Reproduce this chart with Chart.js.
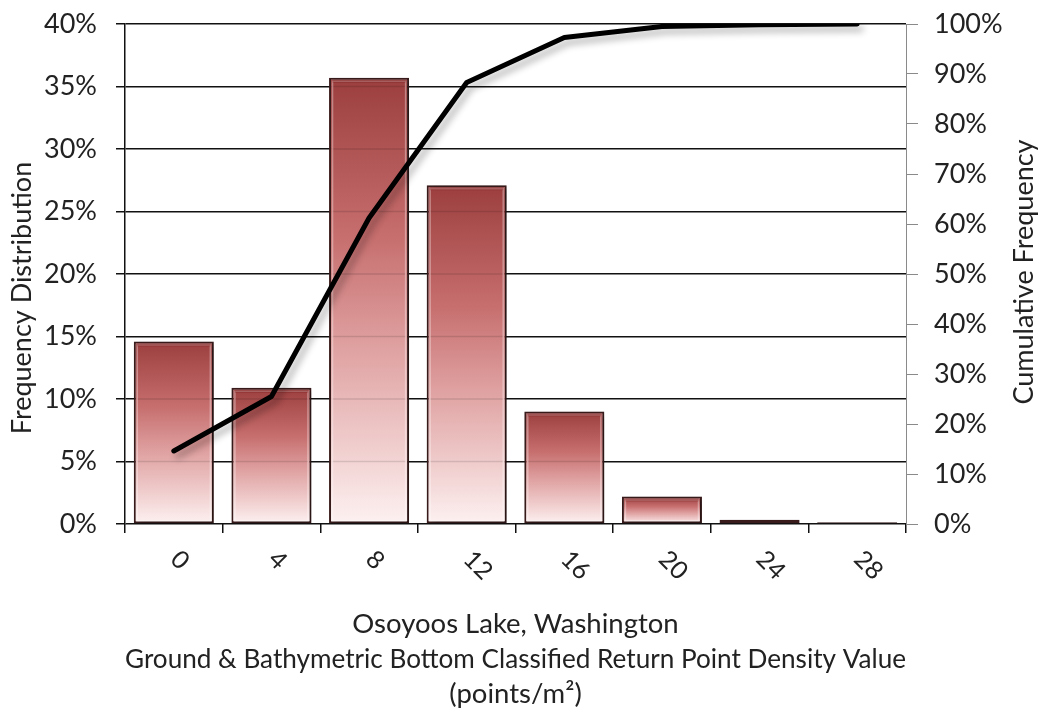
<!DOCTYPE html>
<html>
<head>
<meta charset="utf-8">
<script src="https://cdn.jsdelivr.net/npm/chart.js@4.4.1/dist/chart.umd.min.js"></script>
<style>
  html, body { margin: 0; padding: 0; background: #fff; }
  #wrap { width: 1042px; height: 712px; }
</style>
</head>
<body>
<div id="wrap"><canvas id="c" width="1042" height="712"></canvas></div>
<script>
// Point density classes (points/m²)
const densityClasses = ['0', '4', '8', '12', '16', '20', '24', '28'];
// Share of cells in each class (%)
const frequencyPct = [14.6, 10.9, 35.7, 27.1, 9.0, 2.2, 0.35, 0.15];
// Running total of the shares (%)
const cumulativePct = [14.6, 25.5, 61.2, 88.3, 97.3, 99.5, 99.85, 100];

const leftTicks = [0, 5, 10, 15, 20, 25, 30, 35, 40];
const rightTicks = [0, 10, 20, 30, 40, 50, 60, 70, 80, 90, 100];

const xTitleLines = [
  'Osoyoos Lake, Washington',
  'Ground & Bathymetric Bottom Classified Return Point Density Value',
  '(points/m²)'
];
const leftTitle = 'Frequency Distribution';
const rightTitle = 'Cumulative Frequency';

const FONT = 'Lato';
const TEXT = '#222';

function barGradient(ctx) {
  const chart = ctx.chart;
  if (!chart.chartArea || ctx.dataIndex === undefined) return '#c86a6a';
  const ys = chart.scales.y;
  const top = ys.getPixelForValue(ctx.dataset.data[ctx.dataIndex]);
  const bottom = ys.getPixelForValue(0);
  const g = chart.ctx.createLinearGradient(0, top, 0, bottom + 0.01);
  g.addColorStop(0, '#9c3e3e');
  g.addColorStop(0.35, '#c66d6d');
  g.addColorStop(0.6, '#dfa0a0');
  g.addColorStop(0.85, '#f2d2d2');
  g.addColorStop(1, '#fdf1f1');
  return g;
}

// Soft drop shadows for bars and the cumulative line, plus a light bevel on bars
const effects = {
  id: 'effects',
  beforeDatasetDraw(chart, args) {
    const c = chart.ctx;
    c.save();
    if (args.meta.type === 'bar') {
      c.shadowColor = 'rgba(0,0,0,0.35)';
      c.shadowBlur = 6;
      c.shadowOffsetX = 3;
      c.shadowOffsetY = 2;
    } else {
      c.shadowColor = 'rgba(0,0,0,0.30)';
      c.shadowBlur = 7;
      c.shadowOffsetX = 4;
      c.shadowOffsetY = 5;
    }
  },
  afterDatasetDraw(chart, args) {
    const c = chart.ctx;
    c.restore();
    if (args.meta.type !== 'bar') return;
    const ys = chart.scales.y;
    c.save();
    args.meta.data.forEach(el => {
      const p = el.getProps(['x', 'y', 'base', 'width'], true);
      const h = p.base - p.y;
      if (h < 8) return;
      const l = p.x - p.width / 2 + 3.5, r = p.x + p.width / 2 - 3.5;
      // faint grid showing through the glassy fill
      c.strokeStyle = 'rgba(0,0,0,0.12)';
      c.lineWidth = 1.5;
      leftTicks.forEach(v => {
        const gy = ys.getPixelForValue(v);
        if (gy > p.y + 4 && gy < p.base - 2) {
          c.beginPath();
          c.moveTo(l, gy);
          c.lineTo(r, gy);
          c.stroke();
        }
      });
      c.strokeStyle = 'rgba(255,255,255,0.35)';
      c.lineWidth = 1.5;
      c.strokeRect(l, p.y + 3.5, r - l, h - 6);
      c.fillStyle = 'rgba(120,30,30,0.35)';
      c.fillRect(l, p.y + 2, r - l, 3);
    });
    c.restore();
  }
};

// Rotated category labels and the vertical axis titles
const labels = {
  id: 'labels',
  afterDraw(chart) {
    const c = chart.ctx;
    const xs = chart.scales.x;
    const area = chart.chartArea;
    c.save();
    c.fillStyle = TEXT;
    c.font = '25px ' + FONT;
    c.textAlign = 'left';
    c.textBaseline = 'middle';
    densityClasses.forEach((lab, i) => {
      const x = xs.getPixelForTick(i);
      c.save();
      c.translate(x + 1, area.bottom + 31);
      c.rotate(Math.PI / 4);
      c.fillText(lab, 0, 0);
      c.restore();
    });
    c.font = '27px ' + FONT;
    c.textAlign = 'center';
    c.save();
    c.translate(22, 298);
    c.rotate(-Math.PI / 2);
    c.fillText(leftTitle, 0, 0);
    c.restore();
    c.save();
    c.translate(1024, 272);
    c.rotate(-Math.PI / 2);
    c.fillText(rightTitle, 0, 0);
    c.restore();
    c.restore();
  }
};

function fixVertical(width) {
  return s => {
    s.width = width;
    s.paddingTop = 0;
    s.paddingBottom = 0;
  };
}

new Chart(document.getElementById('c'), {
  data: {
    labels: densityClasses,
    datasets: [
      {
        type: 'line',
        data: cumulativePct,
        yAxisID: 'y2',
        borderColor: '#000',
        borderWidth: 5,
        pointRadius: 0,
        tension: 0,
        borderCapStyle: 'round',
        borderJoinStyle: 'round',
        order: 0
      },
      {
        type: 'bar',
        data: frequencyPct,
        yAxisID: 'y',
        backgroundColor: barGradient,
        borderColor: '#3a1b1b',
        borderWidth: 2,
        borderSkipped: false,
        barPercentage: 0.82,
        categoryPercentage: 1,
        order: 1
      }
    ]
  },
  options: {
    responsive: false,
    animation: false,
    events: [],
    layout: { padding: { top: 24, left: 0, right: 0, bottom: 0 } },
    plugins: { legend: { display: false }, tooltip: { enabled: false } },
    scales: {
      x: {
        type: 'category',
        offset: true,
        ticks: { display: false },
        grid: { offset: true, drawOnChartArea: false, drawTicks: true, tickLength: 9, color: '#111', lineWidth: 1.5 },
        border: { display: false },
        title: {
          display: true,
          text: xTitleLines,
          color: TEXT,
          font: { family: FONT, size: 27.5, lineHeight: 1.28 },
          padding: { top: 0, bottom: 0 }
        },
        afterFit(s) { s.height = 188; }
      },
      y: {
        position: 'left',
        min: 0, max: 40,
        afterBuildTicks(s) { s.ticks = leftTicks.map(v => ({ value: v })); },
        ticks: { callback: v => v + '%', color: TEXT, font: { family: FONT, size: 27 }, padding: 19 },
        grid: { color: '#111', lineWidth: 1.5, tickLength: 9, drawTicks: true },
        border: { display: true, color: '#111', width: 1.5 },
        afterFit: fixVertical(125)
      },
      y2: {
        position: 'right',
        min: 0, max: 100,
        afterBuildTicks(s) { s.ticks = rightTicks.map(v => ({ value: v })); },
        ticks: { callback: v => v + '%', color: TEXT, font: { family: FONT, size: 27 }, padding: 16 },
        grid: { drawOnChartArea: false, color: '#8a8a8a', lineWidth: 1, tickLength: 12 },
        border: { display: true, color: '#8a8a8a', width: 1 },
        afterFit: fixVertical(136)
      }
    }
  },
  plugins: [effects, labels]
});
</script>
</body>
</html>
